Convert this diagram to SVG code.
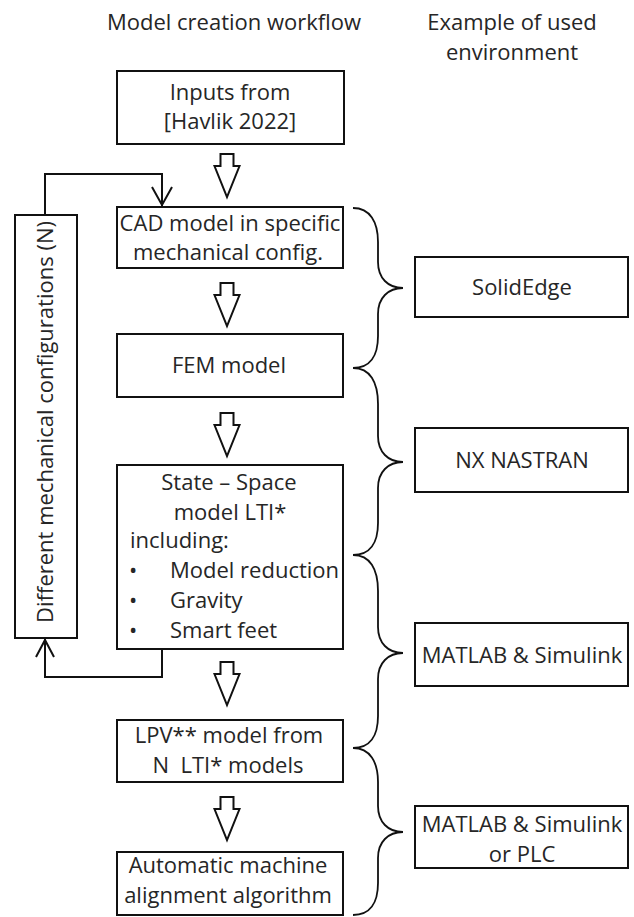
<svg xmlns="http://www.w3.org/2000/svg" width="634" height="917" viewBox="0 0 634 917">
<style>
text{font-family:"Open Sans","Liberation Sans",sans-serif;font-size:22px;fill:#262626}
.c{text-anchor:middle}
.box{fill:#fff;stroke:#111;stroke-width:2}
.ln{fill:none;stroke:#111;stroke-width:2}
.br{fill:none;stroke:#111;stroke-width:1.8}
.ha{fill:#fff;stroke:#111;stroke-width:2;stroke-linejoin:miter}
</style>
<defs>
<polygon id="harrow" class="ha" points="-6.5,0 6.5,0 6.5,12 12.5,12 0,43 -12.5,12 -6.5,12"/>
</defs>
<rect width="634" height="917" fill="#fff"/>
<g id="headers">
<text class="c" x="234" y="30">Model creation workflow</text>
<text class="c" x="512" y="30">Example of used</text>
<text class="c" x="512" y="60">environment</text>
</g>
<g id="inputs">
<rect class="box" x="117" y="71" width="227" height="73"/>
<text class="c" x="230" y="100">Inputs from</text>
<text class="c" x="230" y="129">[Havlik 2022]</text>
</g>
<g id="cad">
<rect class="box" x="117" y="207" width="226" height="61"/>
<text class="c" x="230" y="231" font-size="21.5">CAD model in specific</text>
<text class="c" x="228" y="260">mechanical config.</text>
</g>
<g id="fem">
<rect class="box" x="117" y="334" width="226" height="63"/>
<text class="c" x="229" y="373">FEM model</text>
</g>
<g id="statespace">
<rect class="box" x="117" y="465" width="226" height="184"/>
<text class="c" x="229" y="490">State – Space</text>
<text class="c" x="230" y="520">model LTI*</text>
<text x="130" y="548">including:</text>
<text x="129" y="578">•</text>
<text x="170" y="578">Model reduction</text>
<text x="129" y="608">•</text>
<text x="170" y="608">Gravity</text>
<text x="129" y="638">•</text>
<text x="170" y="638">Smart feet</text>
</g>
<g id="lpv">
<rect class="box" x="117" y="720" width="226" height="62"/>
<text class="c" x="229" y="743">LPV** model from</text>
<text class="c" x="228" y="773" xml:space="preserve">N  LTI* models</text>
</g>
<g id="alignment">
<rect class="box" x="117" y="852" width="226" height="63"/>
<text class="c" x="228" y="873">Automatic machine</text>
<text class="c" x="228" y="903">alignment algorithm</text>
</g>
<g id="configs">
<rect class="box" x="15" y="215" width="62" height="423"/>
<text class="c" transform="translate(53,422) rotate(-90)">Different mechanical configurations (N)</text>
</g>
<g id="solidedge">
<rect class="box" x="415" y="257" width="213" height="60"/>
<text class="c" x="522" y="295">SolidEdge</text>
</g>
<g id="nxnastran">
<rect class="box" x="415" y="428" width="213" height="64"/>
<text class="c" x="522" y="468">NX NASTRAN</text>
</g>
<g id="matlab">
<rect class="box" x="415" y="623" width="213" height="63"/>
<text class="c" x="522" y="663">MATLAB &amp; Simulink</text>
</g>
<g id="matlabplc">
<rect class="box" x="415" y="806" width="213" height="62"/>
<text class="c" x="522" y="832">MATLAB &amp; Simulink</text>
<text class="c" x="522" y="862">or PLC</text>
</g>
<g id="connectors">
<use href="#harrow" x="227" y="154"/>
<use href="#harrow" x="227" y="283"/>
<use href="#harrow" x="227" y="413"/>
<use href="#harrow" x="227" y="662"/>
<use href="#harrow" x="227" y="797"/>
<path class="ln" d="M45,215 V174 H162 V206"/>
<path class="ln" d="M152,187 L162,205 L172,187"/>
<path class="ln" d="M162,649 V677 H45 V639"/>
<path class="ln" d="M36,657 L45,640 L54,657"/>
<path class="br" d="M353,208 C370,208 378,222 378,242 L378,262 C378,278 388,288 403,288 C388,288 378,298 378,314 L378,336 C378,356 370,368 353,368"/>
<path class="br" d="M353,368 C370,368 378,382 378,404 L378,436 C378,452 388,462 403,462 C388,462 378,472 378,488 L378,523 C378,543 370,555 353,555"/>
<path class="br" d="M353,555 C370,555 378,569 378,591 L378,627 C378,643 388,653 403,653 C388,653 378,663 378,679 L378,716 C378,736 370,748 353,748"/>
<path class="br" d="M353,748 C370,748 378,762 378,782 L378,806 C378,822 388,832 403,832 C388,832 378,842 378,858 L378,883 C378,903 370,915 353,915"/>
</g>
</svg>
